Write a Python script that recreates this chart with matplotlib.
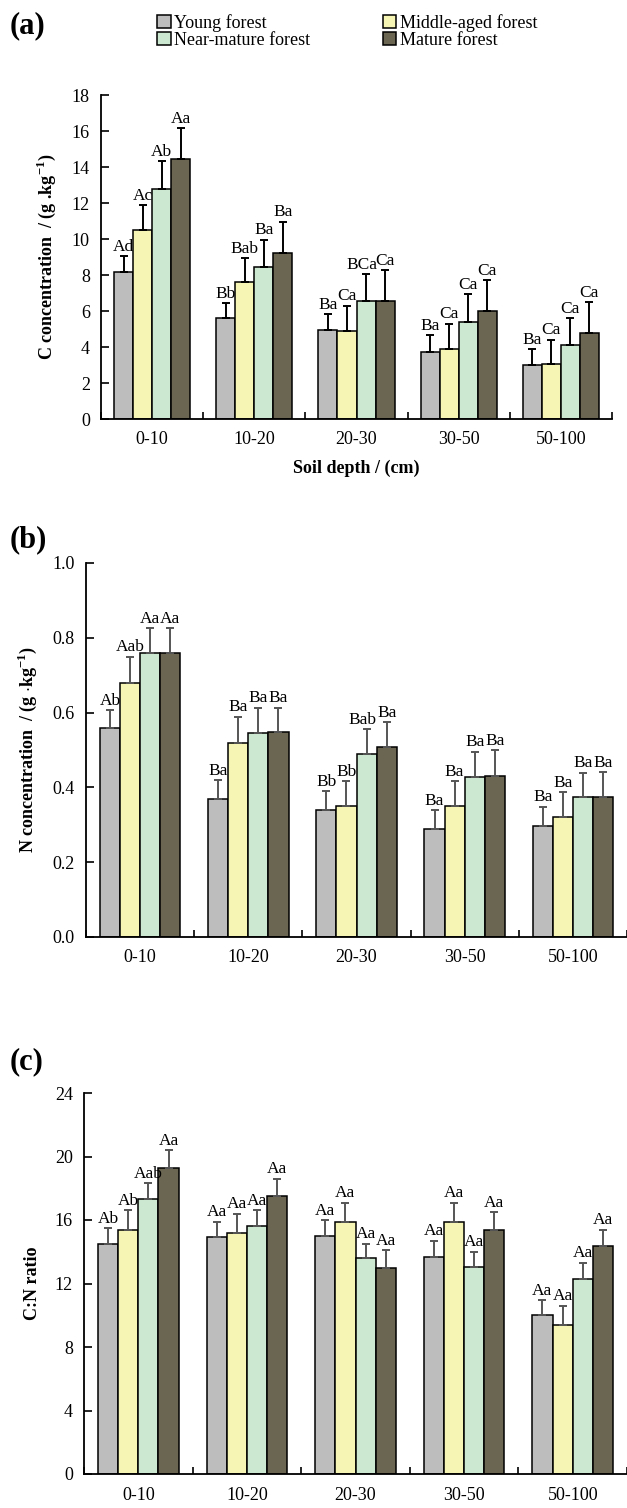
import matplotlib.pyplot as plt
import numpy as np

plt.rcParams['font.family'] = 'Liberation Serif'
plt.rcParams['mathtext.fontset'] = 'custom'
plt.rcParams['mathtext.rm'] = 'Liberation Serif:bold'
plt.rcParams['mathtext.bf'] = 'Liberation Serif:bold'

# soil depth classes and stand ages
depths = ['0-10', '10-20', '20-30', '30-50', '50-100']
stands = ['Young forest', 'Middle-aged forest', 'Near-mature forest', 'Mature forest']
colors = ['#bdbdbd', '#f6f5b4', '#cde8d1', '#6b6651']

# C concentration (g/kg), rows = stands
c_mean = [[8.17, 5.59, 4.94, 3.72, 2.98],
          [10.5, 7.59, 4.88, 3.90, 3.03],
          [12.8, 8.42, 6.53, 5.40, 4.09],
          [14.43, 9.23, 6.53, 5.99, 4.77]]
c_sd = [[0.88, 0.86, 0.89, 0.92, 0.89],
        [1.37, 1.33, 1.41, 1.39, 1.37],
        [1.53, 1.55, 1.52, 1.55, 1.50],
        [1.74, 1.74, 1.74, 1.72, 1.72]]
c_lab = [['Ad', 'Bb', 'Ba', 'Ba', 'Ba'],
         ['Ac', 'Bab', 'Ca', 'Ca', 'Ca'],
         ['Ab', 'Ba', 'BCa', 'Ca', 'Ca'],
         ['Aa', 'Ba', 'Ca', 'Ca', 'Ca']]

# N concentration (g/kg)
n_mean = [[0.56, 0.369, 0.339, 0.29, 0.298],
          [0.68, 0.519, 0.349, 0.349, 0.32],
          [0.759, 0.545, 0.488, 0.429, 0.373],
          [0.759, 0.547, 0.509, 0.431, 0.373]]
n_sd = [[0.046, 0.051, 0.051, 0.049, 0.050],
        [0.069, 0.070, 0.068, 0.068, 0.067],
        [0.067, 0.068, 0.067, 0.066, 0.066],
        [0.067, 0.066, 0.065, 0.068, 0.067]]
n_lab = [['Ab', 'Ba', 'Bb', 'Ba', 'Ba'],
         ['Aab', 'Ba', 'Bb', 'Ba', 'Ba'],
         ['Aa', 'Ba', 'Bab', 'Ba', 'Ba'],
         ['Aa', 'Ba', 'Ba', 'Ba', 'Ba']]

# C:N ratio
cn_mean = [[14.5, 14.9, 15.0, 13.7, 10.0],
           [15.4, 15.2, 15.85, 15.85, 9.4],
           [17.3, 15.6, 13.6, 13.05, 12.3],
           [19.3, 17.5, 13.0, 15.4, 14.35]]
cn_sd = [[1.0, 1.0, 0.98, 1.0, 0.96],
         [1.2, 1.2, 1.25, 1.25, 1.2],
         [1.0, 1.0, 0.9, 0.95, 1.0],
         [1.1, 1.1, 1.1, 1.1, 1.05]]
cn_lab = [['Ab', 'Aa', 'Aa', 'Aa', 'Aa'],
          ['Ab', 'Aa', 'Aa', 'Aa', 'Aa'],
          ['Aab', 'Aa', 'Aa', 'Aa', 'Aa'],
          ['Aa', 'Aa', 'Aa', 'Aa', 'Aa']]

W, H = 627, 1508
fig = plt.figure(figsize=(W / 100, H / 100), dpi=100)


def panel(rect, mean, sd, lab, ylim, yticks, ylabel, ecol, fmt):
    ax = fig.add_axes(rect)
    x = np.arange(len(depths))
    bw = 0.186
    handles = []
    for i in range(4):
        xi = x + (i - 1.5) * bw
        b = ax.bar(xi, mean[i], bw, color=colors[i], edgecolor='black',
                   linewidth=1.1, label=stands[i], zorder=2)
        handles.append(b)
        ax.errorbar(xi, mean[i], yerr=[np.zeros(5), sd[i]], fmt='none',
                    ecolor=ecol, elinewidth=1.4, capsize=3, capthick=1.4, zorder=3)
        for j in range(5):
            # 3-letter labels next to a neighbour get nudged left
            dx = -3 if (i == 2 and len(lab[i][j]) == 3 and j > 0) else 0
            ax.annotate(lab[i][j], (xi[j], mean[i][j] + sd[i][j]),
                        xytext=(dx, 1), textcoords='offset points',
                        ha='center', va='bottom', fontsize=12.5)
    ax.set_xlim(-0.5, 4.5)
    ax.set_ylim(*ylim)
    ax.set_yticks(yticks)
    ax.set_yticklabels([fmt.format(v) for v in yticks])
    ax.set_xticks(x)
    ax.set_xticklabels(depths)
    ax.set_xticks(np.arange(-0.5, 5, 1), minor=True)
    ax.tick_params(axis='x', which='major', length=0, pad=9, labelsize=13)
    ax.tick_params(axis='x', which='minor', direction='in', length=5, width=1.2)
    ax.tick_params(axis='y', direction='in', length=6, width=1.2, labelsize=13, pad=8)
    for s in ['top', 'right']:
        ax.spines[s].set_visible(False)
    for s in ['left', 'bottom']:
        ax.spines[s].set_linewidth(1.3)
    ax.set_ylabel(ylabel, fontsize=13, fontweight='bold', labelpad=10)
    return ax, handles


ax1, hs = panel([101 / W, 1 - 419 / H, 511 / W, 324 / H], c_mean, c_sd, c_lab,
                (0, 18), np.arange(0, 19, 2),
                r'C concentration  / (g .kg$^{\mathbf{-1}}$)', 'black', '{:.0f}')
ax1.set_xlabel('Soil depth / (cm)', fontsize=13, fontweight='bold', labelpad=8)
# column-wise fill: Young/Near-mature in column 1, Middle-aged/Mature in column 2
ax1.legend(handles=[hs[0], hs[2], hs[1], hs[3]],
           labels=[stands[0], stands[2], stands[1], stands[3]],
           loc='upper left', bbox_to_anchor=(148 / W, 1 - 5 / H),
           bbox_transform=fig.transFigure, ncol=2, frameon=False, fontsize=13,
           handlelength=0.75, handleheight=0.75, handletextpad=0.2,
           columnspacing=4.0, labelspacing=0.0, borderpad=0)

ax2, _ = panel([86 / W, 1 - 937 / H, 541 / W, 374 / H], n_mean, n_sd, n_lab,
               (0, 1.0), np.arange(0, 1.01, 0.2),
               r'N concentration  / (g $\cdot$kg$^{-1}$)', '#555555', '{:.1f}')

ax3, _ = panel([84 / W, 1 - 1474 / H, 543 / W, 381 / H], cn_mean, cn_sd, cn_lab,
               (0, 24), np.arange(0, 25, 4),
               'C:N ratio', '#555555', '{:.0f}')

for t, y in [('(a)', 26), ('(b)', 540), ('(c)', 1062)]:
    fig.text(10 / W, 1 - y / H, t, fontsize=22, fontweight='bold', va='center')

fig.savefig('out.png', dpi=100)
